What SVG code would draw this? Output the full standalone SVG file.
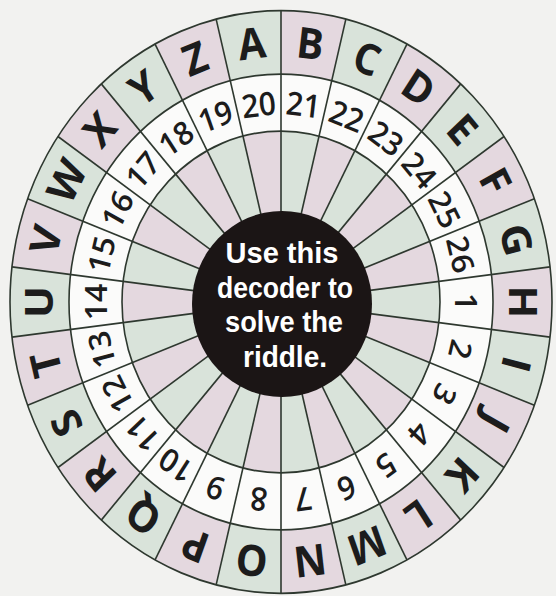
<svg xmlns="http://www.w3.org/2000/svg" width="556" height="596" viewBox="0 0 556 596">
<style>
.ln{stroke:#2e382f;stroke-width:1.6;fill:none;vector-effect:non-scaling-stroke}
.ca{fill:#d9e3da}
.cb{fill:#e4d8df}
.let{font-family:"Open Sans","Liberation Sans",sans-serif;font-weight:700;font-size:40px;fill:#1c1c1c;text-anchor:middle}
.num{font-family:"Open Sans","Liberation Sans",sans-serif;font-weight:600;font-size:30px;fill:#1c1c1c;text-anchor:middle}
.ctr{font-family:"Liberation Sans",Arial,sans-serif;font-weight:700;font-size:29px;fill:#ffffff;text-anchor:middle}
</style>
<defs>
<path id="wo" d="M0,-271 A271,271 0 0 1 64.86,-263.13 L50.74,-205.84 A212,212 0 0 0 0,-212 Z"/>
<path id="wi" d="M0,0 L0,-159 A159,159 0 0 1 38.05,-154.38 Z"/>
<line id="rl" x1="0" y1="-80" x2="0" y2="-271"/>
</defs>
<rect width="556" height="596" fill="#f2f2f0"/>
<g id="wheel" transform="translate(281,302) scale(1,1.075)">
<g id="ring-fills">
<circle r="271" class="ca"/>
<use href="#wo" class="cb" transform="rotate(0)"/>
<use href="#wo" class="cb" transform="rotate(27.692)"/>
<use href="#wo" class="cb" transform="rotate(55.385)"/>
<use href="#wo" class="cb" transform="rotate(83.077)"/>
<use href="#wo" class="cb" transform="rotate(110.769)"/>
<use href="#wo" class="cb" transform="rotate(138.462)"/>
<use href="#wo" class="cb" transform="rotate(166.154)"/>
<use href="#wo" class="cb" transform="rotate(193.846)"/>
<use href="#wo" class="cb" transform="rotate(221.538)"/>
<use href="#wo" class="cb" transform="rotate(249.231)"/>
<use href="#wo" class="cb" transform="rotate(276.923)"/>
<use href="#wo" class="cb" transform="rotate(304.615)"/>
<use href="#wo" class="cb" transform="rotate(332.308)"/>
<circle r="212" fill="#fbfbfa"/>
<circle r="159" class="ca"/>
<use href="#wi" class="cb" transform="rotate(13.846)"/>
<use href="#wi" class="cb" transform="rotate(41.538)"/>
<use href="#wi" class="cb" transform="rotate(69.231)"/>
<use href="#wi" class="cb" transform="rotate(96.923)"/>
<use href="#wi" class="cb" transform="rotate(124.615)"/>
<use href="#wi" class="cb" transform="rotate(152.308)"/>
<use href="#wi" class="cb" transform="rotate(180)"/>
<use href="#wi" class="cb" transform="rotate(207.692)"/>
<use href="#wi" class="cb" transform="rotate(235.385)"/>
<use href="#wi" class="cb" transform="rotate(263.077)"/>
<use href="#wi" class="cb" transform="rotate(290.769)"/>
<use href="#wi" class="cb" transform="rotate(318.462)"/>
<use href="#wi" class="cb" transform="rotate(346.154)"/>
</g>
<g id="connectors" class="ln">
<use href="#rl" transform="rotate(0)"/>
<use href="#rl" transform="rotate(13.846)"/>
<use href="#rl" transform="rotate(27.692)"/>
<use href="#rl" transform="rotate(41.538)"/>
<use href="#rl" transform="rotate(55.385)"/>
<use href="#rl" transform="rotate(69.231)"/>
<use href="#rl" transform="rotate(83.077)"/>
<use href="#rl" transform="rotate(96.923)"/>
<use href="#rl" transform="rotate(110.769)"/>
<use href="#rl" transform="rotate(124.615)"/>
<use href="#rl" transform="rotate(138.462)"/>
<use href="#rl" transform="rotate(152.308)"/>
<use href="#rl" transform="rotate(166.154)"/>
<use href="#rl" transform="rotate(180)"/>
<use href="#rl" transform="rotate(193.846)"/>
<use href="#rl" transform="rotate(207.692)"/>
<use href="#rl" transform="rotate(221.538)"/>
<use href="#rl" transform="rotate(235.385)"/>
<use href="#rl" transform="rotate(249.231)"/>
<use href="#rl" transform="rotate(263.077)"/>
<use href="#rl" transform="rotate(276.923)"/>
<use href="#rl" transform="rotate(290.769)"/>
<use href="#rl" transform="rotate(304.615)"/>
<use href="#rl" transform="rotate(318.462)"/>
<use href="#rl" transform="rotate(332.308)"/>
<use href="#rl" transform="rotate(346.154)"/>
<circle r="271"/>
<circle r="212"/>
<circle r="159"/>
</g>
<g id="letters" class="let">
<text transform="rotate(-6.923)" y="-228">A</text>
<text transform="rotate(6.923)" y="-228">B</text>
<text transform="rotate(20.769)" y="-228">C</text>
<text transform="rotate(34.615)" y="-228">D</text>
<text transform="rotate(48.462)" y="-228">E</text>
<text transform="rotate(62.308)" y="-228">F</text>
<text transform="rotate(76.154)" y="-228">G</text>
<text transform="rotate(90)" y="-228">H</text>
<text transform="rotate(103.846)" y="-228">I</text>
<text transform="rotate(117.692)" y="-228">J</text>
<text transform="rotate(131.538)" y="-228">K</text>
<text transform="rotate(145.385)" y="-228">L</text>
<text transform="rotate(159.231)" y="-228">M</text>
<text transform="rotate(173.077)" y="-228">N</text>
<text transform="rotate(186.923)" y="-228">O</text>
<text transform="rotate(200.769)" y="-228">P</text>
<text transform="rotate(214.615)" y="-228">Q</text>
<text transform="rotate(228.462)" y="-228">R</text>
<text transform="rotate(242.308)" y="-228">S</text>
<text transform="rotate(256.154)" y="-228">T</text>
<text transform="rotate(270)" y="-228">U</text>
<text transform="rotate(283.846)" y="-228">V</text>
<text transform="rotate(297.692)" y="-228">W</text>
<text transform="rotate(311.538)" y="-228">X</text>
<text transform="rotate(325.385)" y="-228">Y</text>
<text transform="rotate(339.231)" y="-228">Z</text>
</g>
<g id="numbers" class="num">
<text transform="rotate(-6.923)" y="-174">20</text>
<text transform="rotate(6.923)" y="-174">21</text>
<text transform="rotate(20.769)" y="-174">22</text>
<text transform="rotate(34.615)" y="-174">23</text>
<text transform="rotate(48.462)" y="-174">24</text>
<text transform="rotate(62.308)" y="-174">25</text>
<text transform="rotate(76.154)" y="-174">26</text>
<text transform="rotate(90)" y="-174">1</text>
<text transform="rotate(103.846)" y="-174">2</text>
<text transform="rotate(117.692)" y="-174">3</text>
<text transform="rotate(131.538)" y="-174">4</text>
<text transform="rotate(145.385)" y="-174">5</text>
<text transform="rotate(159.231)" y="-174">6</text>
<text transform="rotate(173.077)" y="-174">7</text>
<text transform="rotate(186.923)" y="-174">8</text>
<text transform="rotate(200.769)" y="-174">9</text>
<text transform="rotate(214.615)" y="-174">10</text>
<text transform="rotate(228.462)" y="-174">11</text>
<text transform="rotate(242.308)" y="-174">12</text>
<text transform="rotate(256.154)" y="-174">13</text>
<text transform="rotate(270)" y="-174">14</text>
<text transform="rotate(283.846)" y="-174">15</text>
<text transform="rotate(297.692)" y="-174">16</text>
<text transform="rotate(311.538)" y="-174">17</text>
<text transform="rotate(325.385)" y="-174">18</text>
<text transform="rotate(339.231)" y="-174">19</text>
</g>
</g>
<g id="center">
<ellipse cx="282" cy="304" rx="90" ry="93" fill="#1b1515"/>
<g class="ctr">
<text x="282" y="263" textLength="113" lengthAdjust="spacingAndGlyphs">Use this</text>
<text x="285" y="298" textLength="136" lengthAdjust="spacingAndGlyphs">decoder to</text>
<text x="284" y="332" textLength="118" lengthAdjust="spacingAndGlyphs">solve the</text>
<text x="285" y="367" textLength="84" lengthAdjust="spacingAndGlyphs">riddle.</text>
</g>
</g>
</svg>
